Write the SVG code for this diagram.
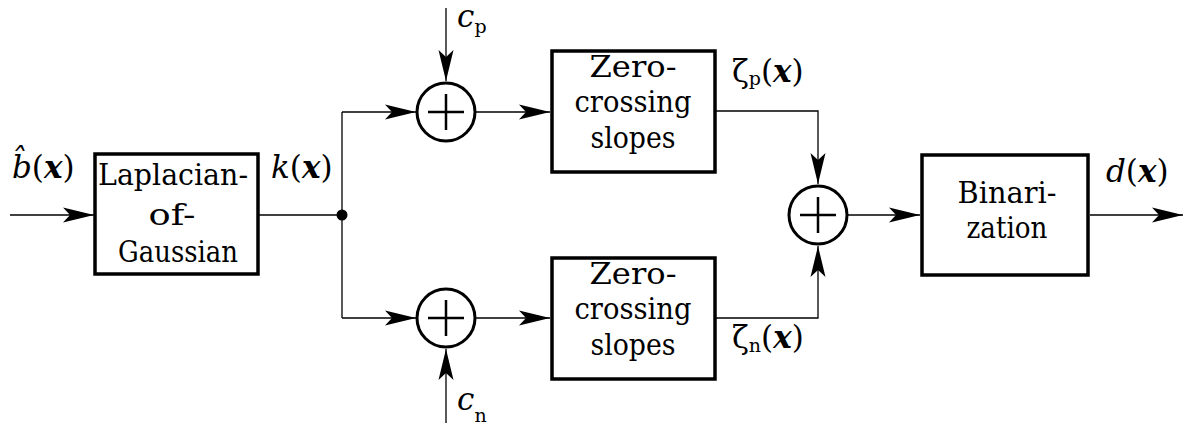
<svg xmlns="http://www.w3.org/2000/svg" width="1187" height="427" viewBox="0 0 1187 427" font-family="'DejaVu Serif', 'Liberation Serif', serif">
<style>
.box{fill:#fff;stroke:#000;stroke-width:3.5}
.sum{fill:#fff;stroke:#000;stroke-width:3}
.plus{stroke:#000;stroke-width:2.5;fill:none}
.ln{fill:none;stroke:#000;stroke-width:1.3}
.t{font-size:29px;text-anchor:middle}
.m{font-size:31px}
.i{font-style:italic}
.bx{font-style:italic;font-weight:bold}
.sub{font-size:19px}
</style>
<defs>
<marker id="ah" markerWidth="32" markerHeight="16" refX="31" refY="8" orient="auto" markerUnits="userSpaceOnUse" viewBox="0 0 32 16">
<path d="M31,8 L0,0.5 L7,8 L0,15.5 Z" fill="#000"/>
</marker>
</defs>
<g id="connectors">
<line class="ln" x1="10" y1="215" x2="94" y2="215" marker-end="url(#ah)"/>
<line class="ln" x1="258" y1="215" x2="342" y2="215"/>
<line class="ln" x1="342" y1="112" x2="342" y2="318"/>
<circle cx="342" cy="215" r="5.5" fill="#000"/>
<polyline class="ln" points="342,112 416,112" marker-end="url(#ah)"/>
<polyline class="ln" points="342,318 416,318" marker-end="url(#ah)"/>
<line class="ln" x1="446" y1="8" x2="446" y2="81" marker-end="url(#ah)"/>
<line class="ln" x1="446" y1="423" x2="446" y2="349" marker-end="url(#ah)"/>
<line class="ln" x1="476" y1="112" x2="550" y2="112" marker-end="url(#ah)"/>
<line class="ln" x1="476" y1="318" x2="550" y2="318" marker-end="url(#ah)"/>
<polyline class="ln" points="716,111 818,111 818,184" marker-end="url(#ah)"/>
<polyline class="ln" points="716,318 818,318 818,246" marker-end="url(#ah)"/>
<line class="ln" x1="848" y1="215" x2="920" y2="215" marker-end="url(#ah)"/>
<line class="ln" x1="1090" y1="215" x2="1183" y2="215" marker-end="url(#ah)"/>
</g>
<g id="log">
<rect class="box" x="95" y="154" width="163" height="120"/>
<text class="t" x="173" y="185" textLength="150" lengthAdjust="spacingAndGlyphs">Laplacian-</text>
<text class="t" x="172" y="225" textLength="47" lengthAdjust="spacingAndGlyphs">of-</text>
<text class="t" x="178" y="262" textLength="120" lengthAdjust="spacingAndGlyphs">Gaussian</text>
</g>
<g id="sum-p">
<circle class="sum" cx="446" cy="112" r="29"/>
<path class="plus" d="M428,112 H464 M446,94 V130"/>
</g>
<g id="sum-n">
<circle class="sum" cx="446" cy="318" r="29"/>
<path class="plus" d="M428,318 H464 M446,300 V336"/>
</g>
<g id="zc-p">
<rect class="box" x="552" y="51" width="163" height="121"/>
<text class="t" x="633" y="77" textLength="87" lengthAdjust="spacingAndGlyphs">Zero-</text>
<text class="t" x="633" y="112" textLength="117" lengthAdjust="spacingAndGlyphs">crossing</text>
<text class="t" x="633" y="148" textLength="85" lengthAdjust="spacingAndGlyphs">slopes</text>
</g>
<g id="zc-n">
<rect class="box" x="552" y="258" width="163" height="121"/>
<text class="t" x="633" y="284" textLength="87" lengthAdjust="spacingAndGlyphs">Zero-</text>
<text class="t" x="633" y="319" textLength="117" lengthAdjust="spacingAndGlyphs">crossing</text>
<text class="t" x="633" y="355" textLength="85" lengthAdjust="spacingAndGlyphs">slopes</text>
</g>
<g id="sum-out">
<circle class="sum" cx="818" cy="215" r="29"/>
<path class="plus" d="M800,215 H836 M818,197 V233"/>
</g>
<g id="bin">
<rect class="box" x="922" y="155" width="166" height="120"/>
<text class="t" x="1007" y="203" textLength="99" lengthAdjust="spacingAndGlyphs">Binari-</text>
<text class="t" x="1007" y="238" textLength="81" lengthAdjust="spacingAndGlyphs">zation</text>
</g>
<g id="labels">
<text class="m" x="12" y="178"><tspan class="i">b̂</tspan>(<tspan class="bx">x</tspan>)</text>
<text class="m" x="271" y="178"><tspan class="i">k</tspan>(<tspan class="bx">x</tspan>)</text>
<text class="m" x="457" y="27" font-size="29"><tspan class="i">c</tspan><tspan class="sub" dy="6">p</tspan></text>
<text class="m" x="457" y="410"><tspan class="i">c</tspan><tspan class="sub" dy="12">n</tspan></text>
<text class="m" x="732" y="82">ζ<tspan class="sub" dy="3">p</tspan><tspan dy="-3">(</tspan><tspan class="bx">x</tspan>)</text>
<text class="m" x="732" y="348">ζ<tspan class="sub" dy="4">n</tspan><tspan dy="-4">(</tspan><tspan class="bx">x</tspan>)</text>
<text class="m" x="1106" y="182"><tspan class="i">d</tspan>(<tspan class="bx">x</tspan>)</text>
</g>
</svg>
